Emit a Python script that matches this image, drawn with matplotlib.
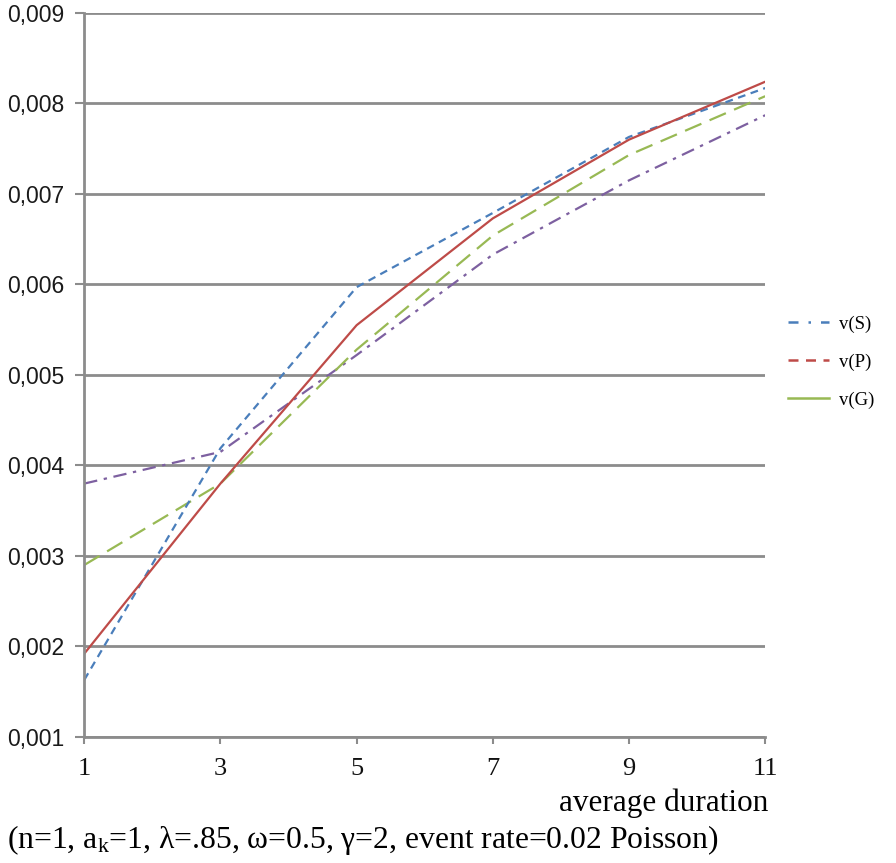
import matplotlib
matplotlib.use('Agg')
import matplotlib.pyplot as plt
from matplotlib.lines import Line2D
from matplotlib.ticker import FuncFormatter

plt.rcParams['mathtext.fontset'] = 'custom'
plt.rcParams['mathtext.rm'] = 'Liberation Serif'
plt.rcParams['mathtext.it'] = 'Liberation Serif:italic'

# === data ===
durations = [1, 3, 5, 7, 9, 11]
v_blue = [0.00163, 0.00419, 0.00597, 0.00679, 0.00763, 0.00817]
v_red = [0.00192, 0.00380, 0.00555, 0.00673, 0.00760, 0.00824]
v_green = [0.00290, 0.00380, 0.00528, 0.00654, 0.00743, 0.00808]
v_purple = [0.00380, 0.00415, 0.00522, 0.00633, 0.00715, 0.00787]
legend_labels = ['v(S)', 'v(P)', 'v(G)']
y_ticks = [0.001, 0.002, 0.003, 0.004, 0.005, 0.006, 0.007, 0.008, 0.009]

c_blue = '#4a7ebb'
c_red = '#be4b48'
c_green = '#98b954'
c_purple = '#7d60a0'
grid_c = '#8c8c8c'

fig = plt.figure(figsize=(8.96, 8.63), dpi=100)
ax = fig.add_axes([0.094, 0.146, 0.760, 0.839])

ax.plot(durations, v_purple, color=c_purple, lw=1.6, dashes=(6, 3, 1.5, 3))
ax.plot(durations, v_green, color=c_green, lw=1.6, dashes=(8, 4))
ax.plot(durations, v_blue, color=c_blue, lw=1.6, dashes=(3.5, 2.5))
ax.plot(durations, v_red, color=c_red, lw=1.6)

ax.set_xlim(1, 11)
ax.set_ylim(0.001, 0.009)
ax.set_xticks(durations)
ax.set_yticks(y_ticks)
ax.yaxis.set_major_formatter(FuncFormatter(lambda v, p: f'{v:.3f}'.replace('.', ',')))
ax.grid(axis='y', color=grid_c, lw=2)
ax.set_axisbelow(True)

for s in ['top', 'right']:
    ax.spines[s].set_visible(False)
for s in ['left', 'bottom']:
    ax.spines[s].set_color(grid_c)
    ax.spines[s].set_linewidth(2)
ax.tick_params(axis='y', colors=grid_c, length=6.5, width=1.5, labelcolor='#1a1a1a',
               labelsize=16.5, pad=8)
ax.tick_params(axis='x', colors=grid_c, length=5, width=1.5, labelcolor='#111111',
               labelsize=19, pad=10)
for t in ax.get_yticklabels():
    t.set_fontfamily('Liberation Sans')
for t in ax.get_xticklabels():
    t.set_fontfamily('Liberation Serif')

fig.text(0.858, 1 - 803 / 863, 'average duration', ha='right', va='center',
         family='Liberation Serif', fontsize=22.5)
fig.text(0.008, 1 - 840 / 863,
         '(n=1, a$_\\mathrm{k}$=1, \u03bb=.85, \u03c9=0.5, \u03b3=2, event rate=0.02 Poisson)',
         ha='left', va='center', family='Liberation Serif', fontsize=22.8)

handles = [Line2D([], [], color=c_blue, lw=1.8, dashes=(4, 4, 1, 4)),
           Line2D([], [], color=c_red, lw=1.8, dashes=(4, 3)),
           Line2D([], [], color=c_green, lw=1.8)]
leg = fig.legend(handles, legend_labels, loc='center left',
                 bbox_to_anchor=(788 / 896, 1 - 362 / 863),
                 frameon=False, prop={'family': 'Liberation Serif', 'size': 13.5},
                 handlelength=2.2, labelspacing=1.1, handletextpad=0.5,
                 borderaxespad=0, borderpad=0)

fig.savefig('out.png', dpi=100)
